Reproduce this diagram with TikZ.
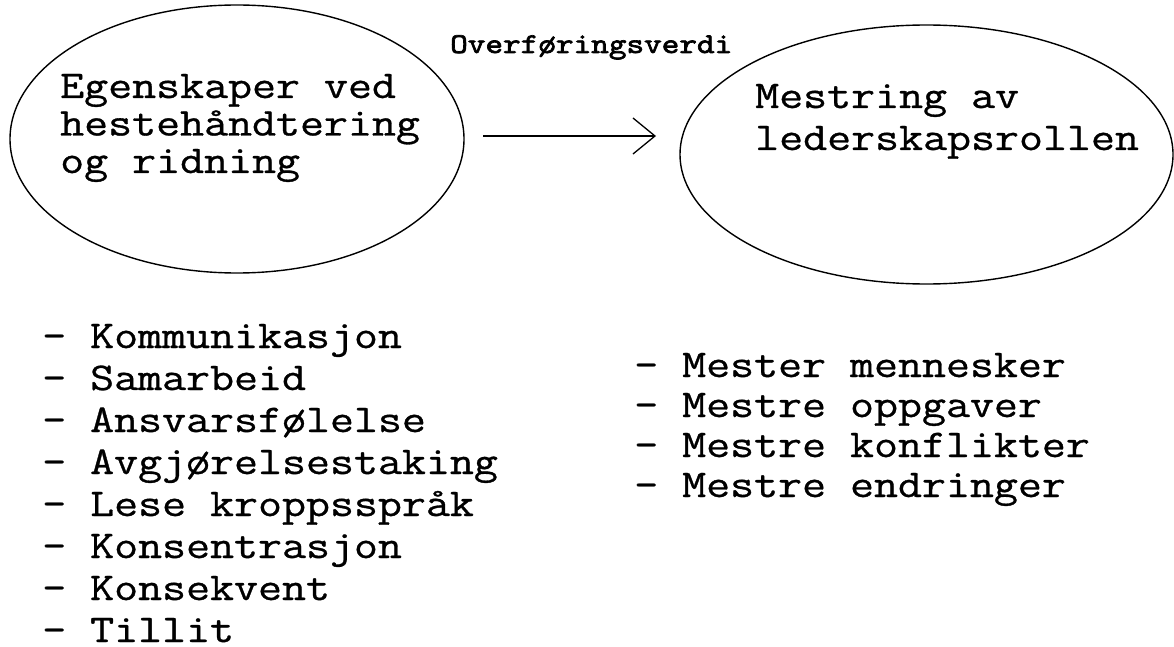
\documentclass[tikz,border=0pt]{standalone}
\usepackage{fontspec}
\setmonofont{lmmono12-regular.otf}[FakeStretch=1.185,FakeBold=0.8]
\newfontfamily\tagfont{lmmono10-regular.otf}[FakeStretch=1.17,FakeBold=2.4]
\usetikzlibrary{shapes.geometric,arrows.meta}
\tikzset{
  bubble/.style={draw, ellipse, line width=1.4pt, inner sep=0pt},
  bigtext/.style={font=\ttfamily\fontsize{39.3pt}{42pt}\selectfont, anchor=base west, inner sep=0pt, align=left},
  tag/.style={font=\tagfont\fontsize{28.7pt}{30pt}\selectfont, anchor=base west, inner sep=0pt},
  flow/.style={line width=1.3pt, -{Straight Barb[length=22pt,width=36pt,line width=1.3pt]}}
}
\begin{document}
\begin{tikzpicture}[x=1pt,y=-1pt]
  \useasboundingbox (0,0) rectangle (1174,647);

  % the two ellipses
  \node[bubble, minimum width=454pt, minimum height=268pt] (src) at (237,139) {};
  \node[bubble, minimum width=493pt, minimum height=259pt] (dst) at (926.5,154.5) {};

  % texts inside the ellipses (a multi-line node sits on its last baseline)
  \node[bigtext, font=\ttfamily\fontsize{39.3pt}{37.5pt}\selectfont] (srctxt) at (60,173)
    {Egenskaper ved\\hestehåndtering\\og ridning};
  \node[bigtext] (dsttxt) at (755,150) {Mestring av\\lederskapsrollen};

  % transfer arrow with its label
  \coordinate (fromA) at (483,136);
  \coordinate (toB) at (656,136);
  \draw[flow] (fromA) -- (toB);
  \node[tag] (transfer) at (450,53) {Overføringsverdi};

  % lists of qualities
  \node[bigtext] (qualities) at (42,642)
    {– Kommunikasjon\\– Samarbeid\\– Ansvarsfølelse\\– Avgjørelsestaking\\– Lese kroppsspråk\\– Konsentrasjon\\– Konsekvent\\– Tillit};
  \node[bigtext, font=\ttfamily\fontsize{39.3pt}{40pt}\selectfont] (mastery) at (634,497)
    {– Mester mennesker\\– Mestre oppgaver\\– Mestre konflikter\\– Mestre endringer};
\end{tikzpicture}
\end{document}
